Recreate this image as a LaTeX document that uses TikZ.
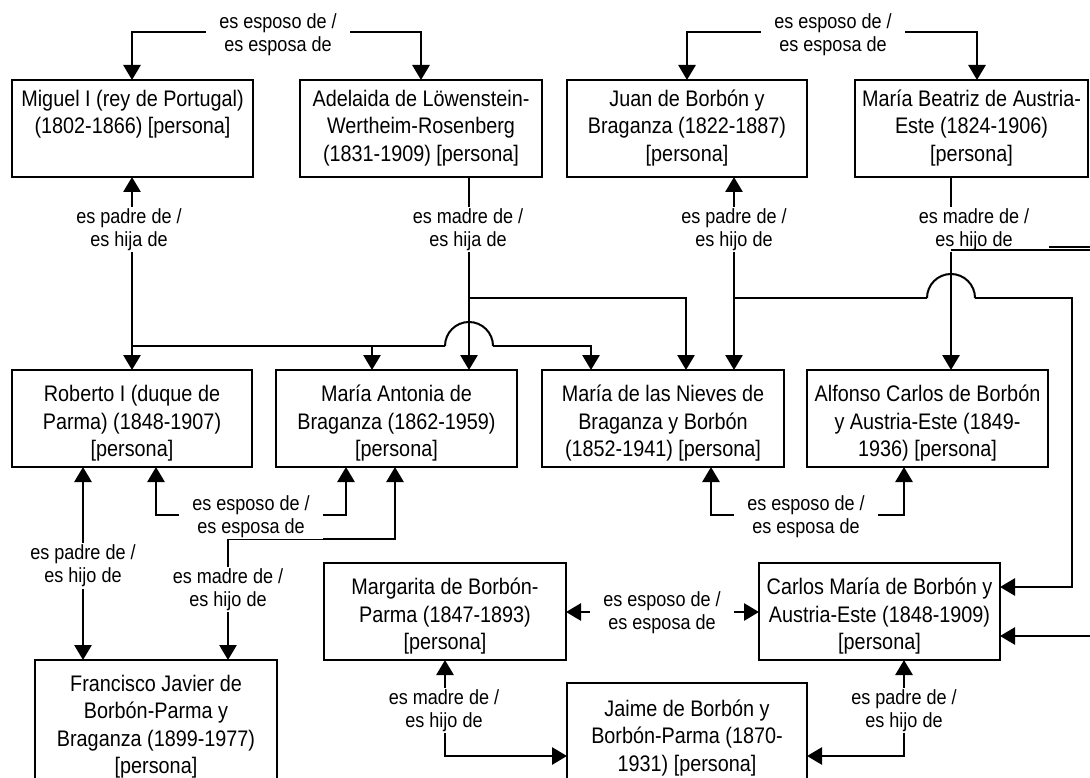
\documentclass[tikz,border=0pt]{standalone}
\usepackage{fontspec}
\setmainfont{Liberation Sans}[FakeStretch=0.88]
\usetikzlibrary{arrows.meta}
\newcommand\nfont{\fontsize{22.5pt}{27.5pt}\selectfont}
\newcommand\lfont{\fontsize{20.5pt}{23pt}\selectfont}
\tikzset{
  pbox/.style={draw, line width=2.4pt, rectangle, inner sep=0pt, outer sep=0pt},
  ptext/.style={align=center, font=\nfont, inner sep=0pt},
  elabel/.style={fill=white, align=center, font=\lfont, inner xsep=13pt, inner ysep=1.5pt},
  conn/.style={line width=2.8pt},
  jump/.style={line width=2pt},
  arr/.style={conn, ->},
  arrs/.style={conn, <->},
}
\newcommand\person[7]{%
  \pgfmathsetmacro\pw{#4-#2}\pgfmathsetmacro\ph{#5-#3}%
  \pgfmathsetmacro\pcx{(#2+#4)/2}\pgfmathsetmacro\pcy{(#3+#5)/2}%
  \node[pbox, minimum width=\pw pt, minimum height=\ph pt] (#1) at (\pcx,\pcy) {};
  \node[ptext] (#1-t) at ([yshift=-#6pt]#1.center) {#7};
}
\begin{document}
\begin{tikzpicture}[x=1pt, y=-1pt, >={Triangle[width=17pt,length=15pt]}]
\useasboundingbox (0,0) rectangle (1090,778);
\clip (0,0) rectangle (1090,778);
\fill[white] (0,0) rectangle (1090,778);

% persons
\person{miguel}{12}{80}{253}{177}{0}{\strut Miguel I (rey de Portugal)\\\strut (1802-1866) [persona]\\\strut}
\person{adelaida}{300}{80}{542}{177}{0}{\strut Adelaida de Löwenstein-\\\strut Wertheim-Rosenberg\\\strut (1831-1909) [persona]}
\person{juan}{567}{80}{807}{177}{0}{\strut Juan de Borbón y\\\strut Braganza (1822-1887)\\\strut [persona]}
\person{mb}{855}{80}{1088}{177}{0}{\strut María Beatriz de Austria-\\\strut Este (1824-1906)\\\strut [persona]}
\person{roberto}{12}{370}{252}{467}{5}{\strut Roberto I (duque de\\\strut Parma) (1848-1907)\\\strut [persona]}
\person{ma}{276}{370}{517}{467}{5}{\strut María Antonia de\\\strut Braganza (1862-1959)\\\strut [persona]}
\person{nieves}{542}{370}{784}{467}{5}{\strut María de las Nieves de\\\strut Braganza y Borbón\\\strut (1852-1941) [persona]}
\person{alfonso}{807}{370}{1048}{467}{5}{\strut Alfonso Carlos de Borbón\\\strut y Austria-Este (1849-\\\strut 1936) [persona]}
\person{margarita}{324}{563}{566}{660}{5}{\strut Margarita de Borbón-\\\strut Parma (1847-1893)\\\strut [persona]}
\person{carlos}{759}{563}{1000}{660}{5}{\strut Carlos María de Borbón y\\\strut Austria-Este (1848-1909)\\\strut [persona]}
\person{francisco}{35}{660}{277}{794}{0}{\strut Francisco Javier de\\\strut Borbón-Parma y\\\strut Braganza (1899-1977)\\\strut [persona]}
\person{jaime}{567}{683}{807}{793}{0}{\strut Jaime de Borbón y\\\strut Borbón-Parma (1870-\\\strut 1931) [persona]}

% junction coordinates
\coordinate (jm) at (132,346);
\coordinate (jma) at (445,346);
\coordinate (jmb) at (493,346);
\coordinate (ja) at (469,298);
\coordinate (jj) at (734,298);
\coordinate (jja) at (927,298);
\coordinate (jjb) at (975,298);
\coordinate (jb) at (951,250);

% connectors
\draw[arrs] (132,0 |- miguel.north) -- (132,32) -| (421,0 |- adelaida.north);
\draw[arrs] (687,0 |- juan.north) -- (687,32) -| (977,0 |- mb.north);

\draw[arrs] (132,0 |- miguel.south) -- (132,0 |- roberto.north);
\draw[arr] (jm) -| (372,0 |- ma.north);
\draw[conn] (jm) -- (jma);
\draw[jump] (jma) arc[start angle=180, end angle=0, radius=24pt];
\draw[arr] (jmb) -- (591,346) -- (591,0 |- nieves.north);

\draw[arr] (469,0 |- adelaida.south) -- (469,0 |- ma.north);
\draw[arr] (ja) -| (686,0 |- nieves.north);

\draw[arrs] (734,0 |- juan.south) -- (734,0 |- nieves.north);
\draw[conn] (jj) -- (jja);
\draw[jump] (jja) arc[start angle=180, end angle=0, radius=24pt];
\draw[arr] (jjb) -- (1072,298) |- (carlos.east |- 0,587);

\draw[arr] (951,0 |- mb.south) -- (951,0 |- alfonso.north);

\draw[arrs] (156,0 |- roberto.south) -- (156,515) -- (346,515) -- (346,0 |- ma.south);
\draw[arrs] (83,0 |- roberto.south) -- (83,0 |- francisco.north);
\draw[arrs] (395,0 |- ma.south) -- (395,539) -- (228,539) -- (228,0 |- francisco.north);
\draw[arrs] (711,0 |- nieves.south) -- (711,515) -- (904,515) -- (904,0 |- alfonso.south);
\draw[arrs] (margarita.east |- 0,612) -- (carlos.west |- 0,612);
\draw[arrs] (445,0 |- margarita.south) -- (445,756) -- (jaime.west |- 0,756);
\draw[arrs] (904,0 |- carlos.south) -- (904,756) -- (jaime.east |- 0,756);
\coordinate (offr) at (1095,636);
\draw[arr] (offr) -- (carlos.east |- 0,636);

% labels
\node[elabel] (l1) at (278,34.5) {es esposo de /\\es esposa de};
\node[elabel] (l2) at (833,34.5) {es esposo de /\\es esposa de};
\node[elabel] (l3) at (129,229.5) {es padre de /\\es hija de};
\node[elabel] (l4) at (468,229.5) {es madre de /\\es hija de};
\node[elabel] (l5) at (734,229.5) {es padre de /\\es hijo de};
\node[elabel] (l6) at (974,229.5) {es madre de /\\es hijo de};
\node[elabel] (l7) at (251,516.5) {es esposo de /\\es esposa de};
\node[elabel] (l8) at (83,566) {es padre de /\\es hijo de};
\node[elabel] (l9) at (228,589.5) {es madre de /\\es hijo de};
\node[elabel] (l10) at (806,516.5) {es esposo de /\\es esposa de};
\node[elabel] (l11) at (662,612.5) {es esposo de /\\es esposa de};
\node[elabel] (l12) at (444,710.5) {es madre de /\\es hijo de};
\node[elabel] (l13) at (904,710.5) {es padre de /\\es hijo de};

% line leaving to the right, drawn over the label
\coordinate (offb) at (1095,250);
\draw[conn] (jb) -- (offb);
\coordinate (offc) at (1049,247);
\coordinate (offd) at (1095,247);
\draw[line width=1.2pt] (offc) -- (offd);
\end{tikzpicture}
\end{document}
